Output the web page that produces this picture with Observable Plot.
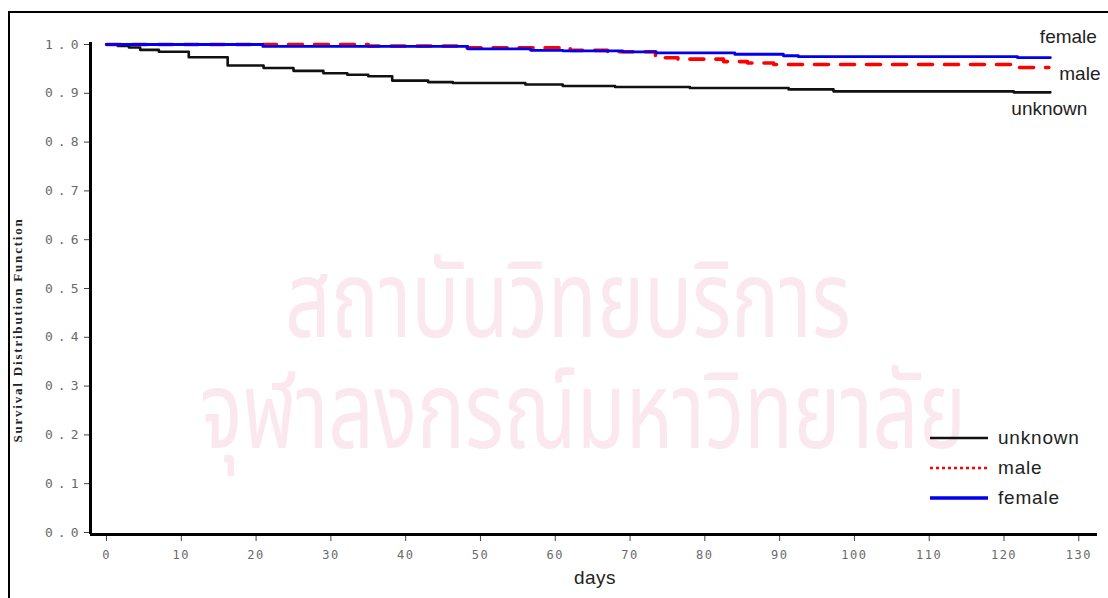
<!DOCTYPE html>
<html><head><meta charset="utf-8">
<script src="https://cdn.jsdelivr.net/npm/d3@7"></script>
<script src="https://cdn.jsdelivr.net/npm/@observablehq/plot@0.6"></script>
<style>
body{margin:0;background:#fff;}
#wrap{position:relative;width:1108px;height:598px;overflow:hidden;font-family:"Liberation Sans",Arial,sans-serif;}
#frame{position:absolute;left:8px;top:11px;width:1200px;height:700px;border-left:2px solid #000;border-top:2px solid #000;}
#wm{position:absolute;left:200px;top:249px;color:#fae8ee;font-family:"Noto Sans Thai","Noto Sans","DejaVu Sans",sans-serif;font-size:108px;white-space:nowrap;line-height:111px;transform-origin:0 0;transform:scaleX(0.74);}
#chart{position:absolute;left:0;top:0;}
#ytitle{position:absolute;left:18px;top:330px;transform:translate(-50%,-50%) rotate(-90deg);font-family:"Liberation Serif","Times New Roman",serif;font-size:13px;font-weight:bold;letter-spacing:1.8px;color:#222;white-space:nowrap;}
#xtitle{position:absolute;left:595px;top:578px;transform:translate(-50%,-50%);font-size:19px;letter-spacing:0.5px;color:#222;}
.leg{position:absolute;left:930px;height:20px;display:flex;align-items:center;font-size:19px;letter-spacing:0.8px;color:#222;}
.leg svg{margin-right:10px;}
g[aria-label="y-axis tick label"] text{letter-spacing:5px;}
g[aria-label="x-axis tick label"] text{letter-spacing:1.5px;}
</style>
</head><body>
<div id="wrap">
  <div id="wm"><span style="margin-left:115px">สถาบันวิทยบริการ</span><br>จุฬาลงกรณ์มหาวิทยาลัย</div>
  <div id="frame"></div>
  <div id="chart"></div>
  <div id="ytitle">Survival Distribution Function</div>
  <div id="xtitle">days</div>
  <div id="legend"></div>
</div>
<script>
// Data (Kaplan-Meier style step curves)
const unknownDays = [0, 1.5, 3, 4.5, 7, 11, 16.2, 21, 25, 29, 32.2, 35, 38.2, 43, 46.3, 56, 61, 68, 78, 91.2, 97.2, 121.3, 126.2];
const unknownSurv = [1.0, 0.997, 0.994, 0.989, 0.985, 0.974, 0.957, 0.952, 0.946, 0.941, 0.938, 0.935, 0.926, 0.923, 0.921, 0.918, 0.915, 0.913, 0.911, 0.908, 0.904, 0.902, 0.902];

const maleDays = [0, 35, 48, 62, 67, 73.4, 76.4, 82.5, 85.7, 89.2, 120.9, 126.0];
const maleSurv = [1.0, 0.997, 0.993, 0.988, 0.985, 0.973, 0.970, 0.965, 0.962, 0.959, 0.953, 0.953];

const femaleDays = [0, 20.9, 48.3, 56.7, 61, 69, 73.5, 84, 90.5, 92.5, 121.8, 126.2];
const femaleSurv = [1.0, 0.996, 0.991, 0.988, 0.987, 0.985, 0.983, 0.980, 0.977, 0.975, 0.973, 0.973];

const seriesNames = ["unknown", "male", "female"];
const seriesColors = ["#111111", "#ff0000", "#0000ee"];
const xTicks = [0, 10, 20, 30, 40, 50, 60, 70, 80, 90, 100, 110, 120, 130];
const yTicks = [0, 0.1, 0.2, 0.3, 0.4, 0.5, 0.6, 0.7, 0.8, 0.9, 1.0];
const xDomain = [-2.14, 132.5];
const yDomain = [-0.0041, 1.0041];

const toRows = (d, s) => d.map((v, i) => ({day: v, s: s[i]}));
const unknownRows = toRows(unknownDays, unknownSurv);
const maleRows = toRows(maleDays, maleSurv);
const femaleRows = toRows(femaleDays, femaleSurv);
const last = r => [r[r.length - 1]];

const chart = Plot.plot({
  width: 1108, height: 598,
  marginLeft: 90, marginRight: 11, marginTop: 42, marginBottom: 64,
  x: {domain: xDomain},
  y: {domain: yDomain},
  style: {background: "transparent", fontFamily: "Liberation Sans, Arial, sans-serif"},
  marks: [
    Plot.axisY({ticks: yTicks, tickSize: 6, tickPadding: 1, tickFormat: d3.format(".1f"), label: null,
      fontFamily: "DejaVu Sans Mono, monospace", fontSize: 13, fill: "#6a6a6a", stroke: "#444"}),
    Plot.axisX({ticks: xTicks, tickSize: 7, tickPadding: 9, tickFormat: d3.format("d"), label: null,
      fontFamily: "DejaVu Sans Mono, monospace", fontSize: 12, fill: "#6a6a6a", stroke: "#444"}),
    Plot.ruleX([xDomain[0]], {stroke: "#000", strokeWidth: 3}),
    Plot.ruleY([yDomain[0]], {stroke: "#000", strokeWidth: 3}),
    Plot.line(unknownRows, {x: "day", y: "s", curve: "step-after", stroke: seriesColors[0], strokeWidth: 2.6}),
    Plot.line(maleRows, {x: "day", y: "s", curve: "step-after", stroke: seriesColors[1], strokeWidth: 3.6, strokeDasharray: "14,12"}),
    Plot.line(femaleRows, {x: "day", y: "s", curve: "step-after", stroke: seriesColors[2], strokeWidth: 2.8}),
    Plot.text(last(femaleRows), {x: "day", y: "s", text: () => seriesNames[2], dx: 18, dy: -21, fontSize: 19, fill: "#222"}),
    Plot.text(last(maleRows), {x: "day", y: "s", text: () => seriesNames[1], dx: 31, dy: 6, fontSize: 19, fill: "#222"}),
    Plot.text(last(unknownRows), {x: "day", y: "s", text: () => seriesNames[0], dx: -1, dy: 17, fontSize: 19, fill: "#222"})
  ]
});
document.getElementById("chart").appendChild(chart);

// Legend
const legend = document.getElementById("legend");
const legTops = [428, 458, 488];
const dashes = [null, "3,3", null];
const widths = [2.5, 2.5, 3.5];
seriesNames.forEach((name, i) => {
  const row = document.createElement("div");
  row.className = "leg";
  row.style.top = legTops[i] + "px";
  row.innerHTML = `<svg width="58" height="8"><line x1="0" x2="58" y1="4" y2="4" stroke="${seriesColors[i]}" stroke-width="${widths[i]}" ${dashes[i] ? `stroke-dasharray="${dashes[i]}"` : ""}/></svg><span>${name}</span>`;
  legend.appendChild(row);
});
</script>
</body></html>
